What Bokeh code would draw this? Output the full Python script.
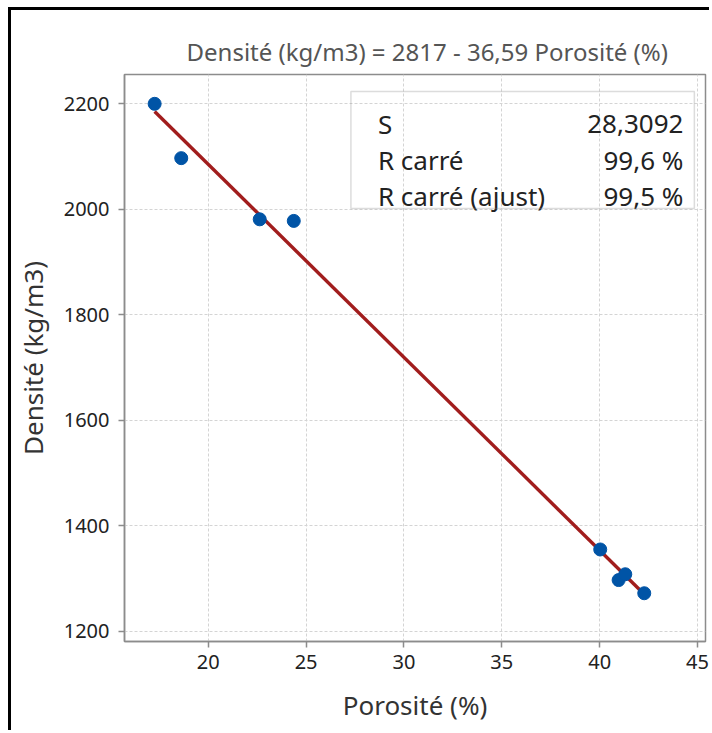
from bokeh.plotting import figure
from bokeh.models import Range1d, BoxAnnotation, ColumnDataSource
from bokeh.core.properties import value
from bokeh.embed import file_html
from bokeh.resources import INLINE

# ---- data ----
porosite = [17.26, 18.62, 22.63, 24.37, 40.03, 40.97, 41.31, 42.28]
densite = [2200, 2097, 1981, 1978, 1355, 1297, 1308, 1272]

intercept = 2817.0
slope = -36.59

stat_names = ["S", "R carré", "R carré (ajust)"]
stat_values = ["28,3092", "99,6 %", "99,5 %"]

title_text = "Densité (kg/m3) = 2817 - 36,59 Porosité (%)"
x_label = "Porosité (%)"
y_label = "Densité (kg/m3)"
x_ticks = [20, 25, 30, 35, 40, 45]
y_ticks = [1200, 1400, 1600, 1800, 2000, 2200]

FONT = "Noto Sans"

p = figure(width=701, height=723, output_backend="svg", toolbar_location=None,
           x_range=Range1d(15.72, 45.41), y_range=Range1d(1180.5, 2255.6),
           min_border_left=100, min_border_right=7, min_border_top=64, min_border_bottom=92)
p.styles = {"border-top": "3px solid black", "border-left": "3px solid black",
            "margin-top": "7px", "margin-left": "8px"}

p.background_fill_color = "white"
p.border_fill_color = "white"
p.outline_line_color = "#8c8c8c"
p.outline_line_width = 1.5

# title (regression equation)
p.title.text = title_text
p.title.align = "left"
p.title.offset = 62
p.title.standoff = 13
p.title.text_font = FONT
p.title.text_font_size = "24px"
p.title.text_font_style = "normal"
p.title.text_color = "#555555"

# grid
for g in (p.xgrid, p.ygrid):
    g.grid_line_color = "#d4d4d4"
    g.grid_line_dash = "3 2"
    g.grid_line_width = 1

p.xaxis.ticker = x_ticks
p.yaxis.ticker = y_ticks

for ax in (p.xaxis, p.yaxis):
    ax.axis_line_color = "#8c8c8c"
    ax.axis_line_width = 1.5
    ax.major_tick_line_color = "#8c8c8c"
    ax.major_tick_line_width = 1.5
    ax.major_tick_out = 6
    ax.major_tick_in = 0
    ax.minor_tick_line_color = None
    ax.major_label_text_font = FONT
    ax.major_label_text_font_size = "20px"
    ax.major_label_text_color = "#222222"
    ax.axis_label_text_font = FONT
    ax.axis_label_text_font_size = "26px"
    ax.axis_label_text_font_style = "normal"
    ax.axis_label_text_color = "#333333"

p.xaxis.axis_label = x_label
p.yaxis.axis_label = y_label
p.xaxis.major_label_standoff = 7
p.yaxis.major_label_standoff = 9
p.xaxis.axis_label_standoff = 15
p.yaxis.axis_label_standoff = 10

# fitted line
fit_x = [min(porosite), max(porosite)]
fit_y = [intercept + slope * x for x in fit_x]
p.line(fit_x, fit_y, line_color="#A11D1D", line_width=3.4)

# points
p.scatter(porosite, densite, size=13, fill_color="#0054A6", line_color="#0054A6")

# stats box
p.add_layout(BoxAnnotation(left=27.29, right=44.84, bottom=2001.5, top=2223.3,
                           fill_alpha=0, line_color="#8c8c8c", line_width=1.5))
row_first, row_step = 2162.0, 68.0
row_y = [row_first - i * row_step for i in range(len(stat_names))]
src = ColumnDataSource(dict(name=stat_names, val=stat_values, y=row_y,
                            xn=[28.67] * len(stat_names), xv=[44.28] * len(stat_names)))
p.text(x="xn", y="y", text="name", source=src, text_align="left", text_baseline="middle",
       text_font=value(FONT), text_font_size=value("26px"), text_color="#222222")
p.text(x="xv", y="y", text="val", source=src, text_align="right", text_baseline="middle",
       text_font=value(FONT), text_font_size=value("26px"), text_color="#222222")

open("out.html", "w").write(file_html(p, INLINE))
